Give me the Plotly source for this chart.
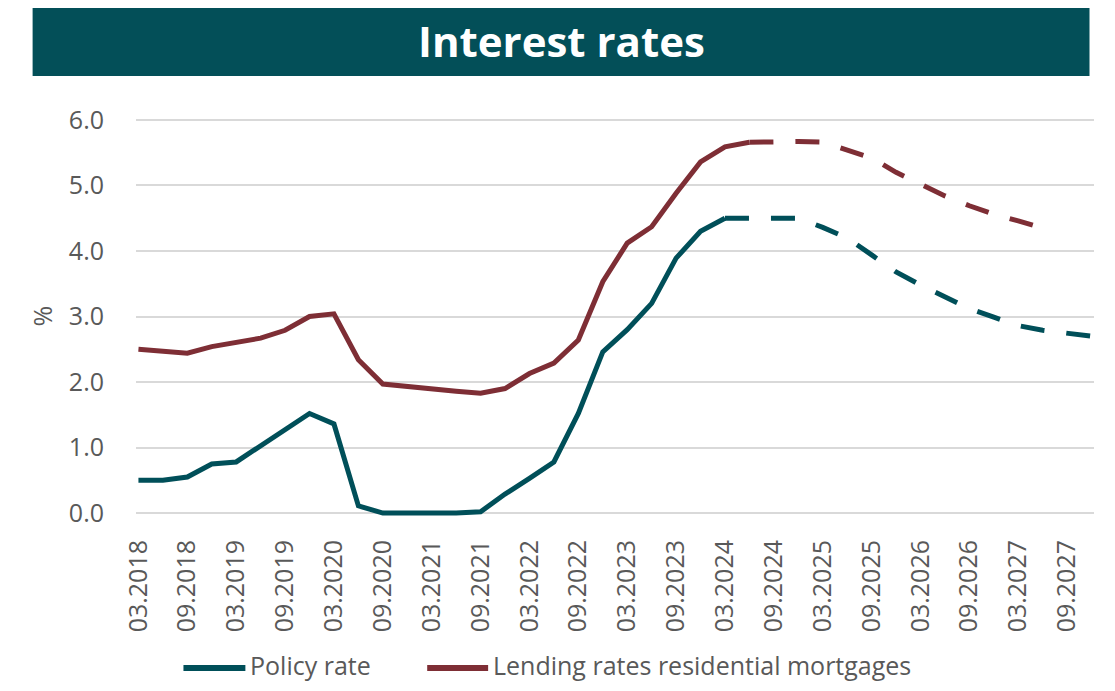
import plotly.graph_objects as go

# Quarterly periods 03.2018 ... 12.2027 (index positions on the x axis)
quarters = ["03.2018", "06.2018", "09.2018", "12.2018", "03.2019", "06.2019", "09.2019", "12.2019",
            "03.2020", "06.2020", "09.2020", "12.2020", "03.2021", "06.2021", "09.2021", "12.2021",
            "03.2022", "06.2022", "09.2022", "12.2022", "03.2023", "06.2023", "09.2023", "12.2023",
            "03.2024", "06.2024", "09.2024", "12.2024", "03.2025", "06.2025", "09.2025", "12.2025",
            "03.2026", "06.2026", "09.2026", "12.2026", "03.2027", "06.2027", "09.2027", "12.2027"]

tick_labels = ["03.2018", "09.2018", "03.2019", "09.2019", "03.2020", "09.2020", "03.2021",
               "09.2021", "03.2022", "09.2022", "03.2023", "09.2023", "03.2024", "09.2024",
               "03.2025", "09.2025", "03.2026", "09.2026", "03.2027", "09.2027"]

y_ticks = [0, 1, 2, 3, 4, 5, 6]

policy_rate = [0.50, 0.50, 0.55, 0.75, 0.78, 1.03, 1.28, 1.52, 1.36, 0.11,
               0.00, 0.00, 0.00, 0.00, 0.02, 0.29, 0.53, 0.78, 1.52, 2.46,
               2.80, 3.20, 3.89, 4.30, 4.50, 4.50, 4.50, 4.50, 4.36, 4.20,
               3.94, 3.68, 3.48, 3.29, 3.12, 2.99, 2.86, 2.79, 2.74, 2.70]

lending_rate = [2.50, 2.47, 2.44, 2.54, 2.61, 2.67, 2.79, 3.00, 3.04, 2.34,
                1.97, 1.93, 1.90, 1.86, 1.83, 1.90, 2.13, 2.29, 2.64, 3.53,
                4.12, 4.37, 4.88, 5.36, 5.59, 5.66, 5.67, 5.67, 5.66, 5.55,
                5.42, 5.20, 5.01, 4.84, 4.69, 4.56, 4.46, 4.35]

series_names = ["Policy rate", "Lending rates residential mortgages"]

# last observed (non-projected) point for each series
policy_last_actual = 24
lending_last_actual = 25

TEAL = "#004F59"
RED = "#7E2E35"
GREY = "#595959"
FONT = "Open Sans"

x_all = list(range(len(quarters)))
tick_pos = [quarters.index(t) for t in tick_labels]

fig = go.Figure()

def add_series(values, last_actual, color, name):
    xs = x_all[:len(values)]
    fig.add_trace(go.Scatter(x=xs[:last_actual + 1], y=values[:last_actual + 1], mode="lines",
                             line=dict(color=color, width=5), name=name, showlegend=False,
                             hoverinfo="skip"))
    fig.add_trace(go.Scatter(x=xs[last_actual:], y=values[last_actual:], mode="lines",
                             line=dict(color=color, width=5, dash="24px,22px"), name=name,
                             showlegend=False, hoverinfo="skip"))

add_series(policy_rate, policy_last_actual, TEAL, series_names[0])
add_series(lending_rate, lending_last_actual, RED, series_names[1])

# page body has an 8px margin; figure sized so the page does not scroll
OFF = 8
W, H = 1115 - 2 * OFF, 691 - 2 * OFF
L, R, T, B = 127.5, 12.5, 108, 166
pw, ph = W - L - R, H - T - B

def px_x(x):  # window pixel -> paper x
    return (x - OFF - L) / pw

def px_y(y):  # window pixel -> paper y
    return (H - B - (y - OFF)) / ph

fig.update_layout(
    width=W, height=H,
    margin=dict(l=L, r=R, t=T, b=B, autoexpand=False),
    paper_bgcolor="white", plot_bgcolor="white",
    font=dict(family=FONT, color=GREY, size=25),
    showlegend=False,
    xaxis=dict(range=[-0.1, len(quarters) - 1 + 0.1], tickmode="array", tickvals=tick_pos,
               ticktext=tick_labels, tickangle=-90, showgrid=False, zeroline=False,
               showline=False, ticks="outside", ticklen=12, tickcolor="rgba(0,0,0,0)",
               tickfont=dict(size=25, color=GREY, family=FONT)),
    yaxis=dict(range=[-0.06, 6.06], tickmode="array", tickvals=y_ticks, tickformat=".1f",
               showgrid=True, gridcolor="#D9D9D9", gridwidth=1.5, zeroline=False,
               showline=False, ticks="outside", ticklen=26, tickcolor="rgba(0,0,0,0)",
               tickfont=dict(size=25, color=GREY, family=FONT)),
)

# title banner
fig.add_shape(type="rect", xref="paper", yref="paper",
              x0=px_x(32), x1=px_x(1090), y0=px_y(76), y1=px_y(5),
              fillcolor="#034F58", line=dict(width=0), layer="below")
fig.add_annotation(text="<b>Interest rates</b>", xref="paper", yref="paper",
                   x=px_x(561), y=px_y(40), xanchor="center", yanchor="middle",
                   showarrow=False, font=dict(size=42, color="white", family=FONT))
# y-axis unit
fig.add_annotation(text="%", xref="paper", yref="paper", x=px_x(41), y=px_y(316),
                   xanchor="center", yanchor="middle", textangle=-90, showarrow=False,
                   font=dict(size=25, color=GREY, family=FONT))

# legend (drawn as shapes + text to match the long line keys)
LEG_LINE_Y, LEG_TEXT_Y = 668, 665
legend_items = [(series_names[0], TEAL, 183, 245, 248), (series_names[1], RED, 427, 488, 491)]
for name, color, x0, x1, xt in legend_items:
    fig.add_shape(type="line", xref="paper", yref="paper",
                  x0=px_x(x0), x1=px_x(x1), y0=px_y(LEG_LINE_Y), y1=px_y(LEG_LINE_Y),
                  line=dict(color=color, width=6))
    fig.add_annotation(text=name, xref="paper", yref="paper", x=px_x(xt), y=px_y(LEG_TEXT_Y),
                       xanchor="left", yanchor="middle", showarrow=False,
                       font=dict(size=25, color=GREY, family=FONT))

fig.write_html("out.html")
